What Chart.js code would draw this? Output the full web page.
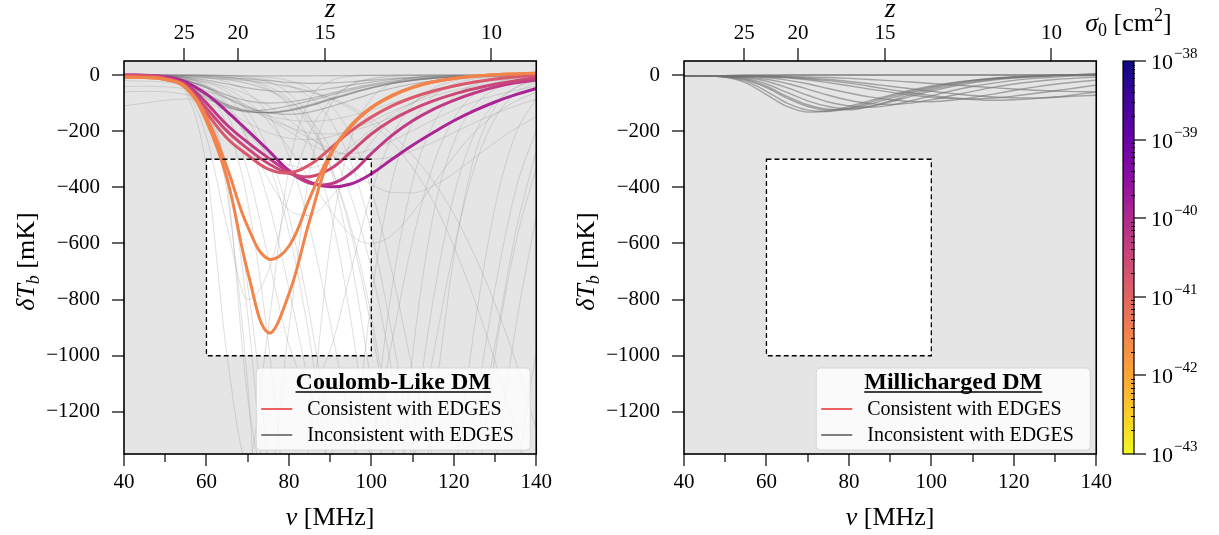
<!DOCTYPE html>
<html>
<head>
<meta charset="utf-8">
<script src="https://cdn.jsdelivr.net/npm/chart.js@4.4.0/dist/chart.umd.min.js"></script>
<style>
  html, body { margin: 0; padding: 0; background: #fff; }
  #wrap { position: relative; width: 1219px; height: 535px; overflow: hidden; }
  #wrap canvas { position: absolute; top: 0; }
</style>
</head>
<body>
<div id="wrap">
  <canvas id="cbar" width="139" height="535" style="left:1080px"></canvas>
  <canvas id="right" width="560" height="535" style="left:560px"></canvas>
  <canvas id="left" width="560" height="535" style="left:0px"></canvas>
</div>
<script>
// frequency grid shared by every curve (MHz)
const nuGrid = [40,45,50,55,60,65,70,75,80,85,90,95,100,105,110,115,120,125,130,135,140];
const nuTicks = [40,50,60,70,80,90,100,110,120,130,140];
const tbTicks = [0,-200,-400,-600,-800,-1000,-1200];
const zTicks = [25,20,15,10];
const edgesBoxNu = [60,100];
const edgesBoxTb = [-300,-1000];
const sigmaExp = [-43,-42,-41,-40,-39,-38];

// Coulomb-like DM: curves consistent with EDGES (coloured by sigma_0)
const coulombEdges = [
  [-8,-9,-16,-45,-165,-370,-700,-918,-780,-520,-290,-185,-118,-75,-45,-25,-12,-4,1,4,6],
  [-8,-9,-15,-42,-150,-330,-540,-655,-610,-440,-282,-180,-115,-72,-43,-24,-12,-4,1,4,6],
  [-2,-3,-12,-45,-135,-225,-285,-335,-348,-320,-262,-200,-150,-110,-80,-57,-39,-25,-14,-6,-1],
  [-1,-2,-10,-38,-118,-200,-262,-315,-350,-362,-335,-275,-210,-160,-122,-92,-68,-49,-33,-20,-10],
  [-1,-2,-8,-32,-100,-178,-240,-295,-345,-385,-388,-350,-280,-215,-163,-122,-90,-64,-43,-28,-18],
  [0,-1,-6,-25,-68,-130,-198,-268,-340,-382,-398,-388,-352,-300,-250,-205,-163,-127,-96,-70,-48]
];
const coulombLogSigma = [-41.5,-41.5,-40.8,-40.5,-40.25,-39.9];

// Coulomb-like DM: inconsistent curves, dense shallow band
const coulombBand = [
  [0,0,0,0,-1,-2,-3,-3,-3,-3,-2,-2,-1,-1,0,0,0,0,0,0,0],
  [0,0,-1,-2,-5,-9,-14,-20,-26,-30,-28,-24,-18,-13,-8,-5,-3,-2,-1,0,0],
  [-1,-1,-3,-8,-18,-32,-46,-56,-60,-57,-48,-36,-25,-16,-10,-6,-3,-2,-1,0,0],
  [-2,-3,-7,-20,-45,-72,-92,-100,-96,-84,-66,-48,-33,-22,-14,-8,-5,-3,-2,-1,0],
  [-3,-4,-10,-30,-70,-108,-130,-135,-128,-110,-88,-66,-46,-30,-19,-12,-7,-4,-2,-1,0],
  [-3,-5,-13,-38,-82,-115,-128,-123,-110,-92,-72,-54,-38,-26,-17,-11,-7,-4,-2,-1,0],
  [-2,-3,-6,-18,-45,-82,-115,-135,-140,-132,-113,-90,-67,-47,-32,-21,-13,-8,-5,-3,-2],
  [-3,-4,-9,-27,-66,-105,-128,-134,-127,-110,-88,-66,-47,-31,-20,-12,-7,-4,-2,-1,0],
  [-3,-4,-11,-33,-75,-112,-132,-133,-124,-106,-84,-63,-44,-29,-18,-11,-6,-4,-2,-1,0]
];

// Coulomb-like DM: inconsistent curves, faint
const coulombFaint = [
  [-110,-100,-90,-85,-90,-105,-125,-145,-160,-165,-160,-145,-125,-100,-78,-58,-42,-30,-20,-13,-8],
  [-60,-58,-60,-70,-95,-130,-170,-205,-225,-230,-220,-195,-165,-130,-100,-75,-55,-40,-28,-20,-14],
  [-20,-22,-25,-35,-55,-85,-120,-155,-185,-205,-210,-200,-178,-150,-120,-92,-70,-52,-38,-27,-19],
  [-5,-6,-10,-20,-40,-70,-110,-155,-200,-245,-275,-280,-265,-235,-198,-160,-125,-95,-72,-54,-40],
  [-40,-40,-42,-48,-60,-80,-110,-145,-185,-225,-262,-290,-300,-292,-270,-240,-205,-170,-138,-110,-86],
  [-3,-4,-9,-25,-65,-130,-210,-280,-320,-330,-305,-255,-195,-140,-97,-65,-43,-28,-18,-11,-7],
  [-10,-10,-12,-16,-25,-42,-70,-110,-160,-218,-280,-340,-390,-418,-420,-395,-350,-295,-240,-190,-148],
  [-2,-2,-4,-12,-40,-110,-230,-370,-480,-500,-440,-340,-240,-160,-100,-62,-38,-23,-14,-8,-5],
  [-5,-5,-7,-12,-24,-50,-95,-165,-260,-370,-480,-570,-600,-570,-490,-390,-290,-205,-140,-93,-62],
  [-1,-2,-8,-50,-220,-540,-800,-700,-430,-210,-90,-36,-14,-5,-2,-1,0,0,0,0,0],
  [0,-1,-3,-12,-45,-140,-340,-650,-960,-1100,-980,-700,-420,-220,-105,-48,-21,-9,-4,-2,-1],
  [0,0,-2,-15,-90,-380,-1150,-1450,-900,-350,-110,-35,-12,-4,-1,0,0,0,0,0,0],
  [0,0,-3,-20,-110,-420,-1100,-2100,-2000,-1300,-600,-230,-85,-30,-10,-3,-1,0,0,0,0],
  [-5,-6,-12,-35,-120,-350,-850,-1700,-2800,-3000,-2400,-1500,-800,-380,-170,-75,-32,-14,-6,-3,-1],
  [-2,-3,-6,-18,-60,-180,-450,-950,-1650,-2300,-2500,-2050,-1350,-760,-380,-175,-78,-34,-15,-7,-3],
  [-10,-12,-20,-50,-140,-350,-750,-1400,-2300,-3300,-4000,-3700,-2800,-1800,-1000,-500,-240,-110,-50,-22,-10],
  [-3,-4,-6,-12,-28,-60,-130,-270,-500,-850,-1300,-1750,-2000,-1800,-1300,-800,-430,-210,-100,-45,-20],
  [-8,-9,-12,-20,-40,-80,-160,-310,-560,-940,-1450,-2050,-2600,-2950,-3000,-2700,-2150,-1550,-1000,-600,-330],
  [-2,-2,-3,-5,-9,-16,-30,-55,-100,-180,-320,-540,-860,-1300,-1800,-2250,-2500,-2350,-1950,-1450,-980],
  [-3,-3,-4,-6,-10,-17,-30,-52,-90,-155,-260,-430,-690,-1060,-1550,-2150,-2750,-3250,-3500,-3350,-2900],
  [0,0,0,-1,-3,-8,-20,-48,-110,-240,-480,-870,-1380,-1750,-1700,-1200,-650,-290,-115,-45,-17],
  [0,0,0,0,-1,-3,-7,-16,-36,-78,-160,-310,-560,-920,-1320,-1600,-1550,-1200,-760,-410,-195],
  [-5,-5,-6,-8,-11,-15,-21,-30,-42,-60,-85,-120,-170,-240,-330,-450,-610,-800,-1020,-1260,-1500],
  [0,-1,-8,-60,-330,-1000,-1380,-900,-330,-90,-22,-5,-1,0,0,0,0,0,0,0,0],
  [-1,-1,-3,-10,-35,-100,-230,-450,-760,-1110,-1400,-1500,-1300,-950,-590,-320,-155,-68,-28,-11,-4],
  [0,0,0,-1,-3,-8,-18,-40,-85,-170,-320,-560,-900,-1330,-1800,-2150,-2200,-1900,-1400,-900,-500],
  [0,0,0,0,-1,-3,-9,-25,-65,-150,-330,-650,-1100,-1600,-1950,-1900,-1450,-900,-470,-210,-85],
  [0,0,-1,-3,-9,-25,-62,-140,-290,-540,-880,-1250,-1550,-1600,-1380,-1000,-620,-330,-155,-65,-25],
  [0,0,0,0,0,-1,-3,-8,-20,-48,-105,-215,-410,-700,-1050,-1360,-1500,-1330,-960,-560,-270],
  [-3,-3,-4,-6,-9,-13,-19,-28,-40,-57,-80,-112,-155,-212,-285,-378,-495,-640,-815,-1020,-1260]
];

// Millicharged DM: all curves inconsistent with EDGES
const milliGray = [
  [-4,-3,-2,-1,-1,0,0,0,0,0,0,0,0,0,0,0,0,0,0,0,0],
  [-4,-3,-2,-1,-1,0,0,0,0,0,0,0,0,0,0,0,0,0,0,1,2],
  [-4,-4,-8,-28,-70,-112,-132,-128,-112,-92,-72,-54,-39,-27,-18,-11,-6,-3,-1,1,3],
  [-4,-4,-7,-22,-58,-100,-125,-130,-118,-98,-77,-58,-42,-29,-19,-12,-7,-3,-1,1,3],
  [-4,-4,-6,-17,-45,-82,-112,-125,-120,-104,-83,-63,-46,-32,-21,-13,-8,-4,-1,1,3],
  [-4,-4,-6,-15,-40,-76,-106,-122,-124,-112,-92,-70,-51,-36,-24,-15,-9,-5,-2,0,2],
  [-4,-4,-5,-12,-32,-62,-92,-112,-120,-113,-96,-76,-57,-41,-28,-18,-11,-6,-2,0,2],
  [-4,-4,-5,-9,-22,-45,-72,-96,-110,-115,-108,-92,-74,-56,-41,-29,-19,-12,-7,-3,-1],
  [-4,-4,-4,-7,-15,-30,-50,-72,-90,-102,-105,-100,-88,-73,-58,-44,-32,-23,-16,-11,-7],
  [-4,-4,-4,-5,-9,-18,-31,-48,-64,-78,-88,-94,-95,-90,-80,-68,-55,-43,-33,-25,-18],
  [-4,-4,-4,-4,-6,-10,-17,-27,-38,-50,-61,-71,-79,-84,-85,-82,-75,-66,-56,-46,-36],
  [-4,-4,-4,-4,-5,-8,-13,-20,-29,-40,-52,-63,-73,-81,-87,-90,-88,-84,-79,-75,-72],
  [-4,-4,-4,-4,-5,-7,-11,-16,-23,-31,-40,-49,-58,-66,-73,-78,-81,-82,-78,-70,-60],
  [-4,-4,-4,-4,-4,-5,-7,-9,-12,-16,-20,-25,-30,-35,-40,-45,-50,-54,-57,-59,-60]
];

const FONT = '"Liberation Serif", "Times New Roman", serif';
const plasmaStops = ['#0d0887','#41049d','#6a00a8','#8f0da4','#b12a90','#cc4778','#e16462','#f2844b','#fca636','#fcce25','#f0f921'];

function hexRgb(h) { return [1,3,5].map(i => parseInt(h.slice(i, i + 2), 16)); }
function plasma(t) {
  t = Math.min(1, Math.max(0, t));
  const n = plasmaStops.length - 1;
  const f = t * n, i = Math.min(Math.floor(f), n - 1), u = f - i;
  const a = hexRgb(plasmaStops[i]), b = hexRgb(plasmaStops[i + 1]);
  return 'rgb(' + a.map((c, k) => Math.round(c + (b[k] - c) * u)).join(',') + ')';
}
// colorbar is reversed plasma: small sigma = yellow
function sigmaColor(ls) {
  const lo = sigmaExp[0], hi = sigmaExp[sigmaExp.length - 1];
  return plasma(1 - (ls - lo) / (hi - lo));
}
function zToNu(z) { return 1420.406 / (1 + z); }

function toPoints(vals) { return vals.map((v, i) => ({ x: nuGrid[i], y: v })); }
function lineSet(vals, color, width, order, smooth) {
  const ds = {
    data: toPoints(vals), borderColor: color, borderWidth: width, pointRadius: 0,
    fill: false, order: order
  };
  if (smooth) ds.tension = 0.4;
  else ds.cubicInterpolationMode = 'monotone';
  return ds;
}

function runFont(r) { return (r.s || '') + ' ' + r.px + 'px ' + FONT; }
function drawRuns(ctx, runs, x, y) {
  let w = 0;
  runs.forEach(r => { ctx.font = runFont(r); w += ctx.measureText(r.t).width; });
  let cx = x - w / 2;
  ctx.textAlign = 'left';
  ctx.textBaseline = 'alphabetic';
  runs.forEach(r => {
    ctx.font = runFont(r);
    ctx.fillText(r.t, cx, y + (r.dy || 0));
    cx += ctx.measureText(r.t).width;
  });
}
function seg(ctx, x0, y0, x1, y1) {
  ctx.beginPath(); ctx.moveTo(x0, y0); ctx.lineTo(x1, y1); ctx.stroke();
}

function drawLegend(chart, title) {
  const { ctx, chartArea: a } = chart;
  const w = 274, h = 82;
  const x0 = a.right - 6 - w, y0 = a.bottom - 4 - h;
  ctx.save();
  ctx.beginPath();
  ctx.roundRect(x0, y0, w, h, 4);
  ctx.fillStyle = 'rgba(255,255,255,0.8)';
  ctx.fill();
  ctx.strokeStyle = '#d6d6d6';
  ctx.lineWidth = 1;
  ctx.stroke();

  ctx.fillStyle = '#000';
  ctx.font = 'bold 24px ' + FONT;
  ctx.textAlign = 'center';
  ctx.textBaseline = 'alphabetic';
  const cx = x0 + w / 2;
  ctx.fillText(title, cx, y0 + 21);
  const tw = ctx.measureText(title).width;
  ctx.strokeStyle = '#000';
  ctx.lineWidth = 1.3;
  seg(ctx, cx - tw / 2, y0 + 24, cx + tw / 2, y0 + 24);

  const rows = [['Consistent with EDGES', '#eb5f5f'], ['Inconsistent with EDGES', '#7f7f7f']];
  rows.forEach((r, i) => {
    const yy = y0 + 41 + i * 26;
    ctx.strokeStyle = r[1];
    ctx.lineWidth = 2;
    seg(ctx, x0 + 5, yy, x0 + 36, yy);
    ctx.fillStyle = '#000';
    ctx.font = '20px ' + FONT;
    ctx.textAlign = 'left';
    ctx.fillText(r[0], x0 + 51, yy + 6);
  });
  ctx.restore();
}

const panelPlugin = {
  id: 'panel',
  beforeDatasetsDraw(chart) {
    const { ctx, chartArea: a, scales } = chart;
    const x = scales.x, y = scales.y;
    ctx.save();
    ctx.fillStyle = '#e5e5e5';
    ctx.fillRect(a.left, a.top, a.width, a.height);
    const bx0 = x.getPixelForValue(edgesBoxNu[0]), bx1 = x.getPixelForValue(edgesBoxNu[1]);
    const by0 = y.getPixelForValue(edgesBoxTb[0]), by1 = y.getPixelForValue(edgesBoxTb[1]);
    ctx.fillStyle = '#fff';
    ctx.fillRect(bx0, by0, bx1 - bx0, by1 - by0);
    ctx.restore();
  },
  afterDatasetsDraw(chart) {
    const { ctx, scales } = chart;
    const x = scales.x, y = scales.y;
    const bx0 = x.getPixelForValue(edgesBoxNu[0]), bx1 = x.getPixelForValue(edgesBoxNu[1]);
    const by0 = y.getPixelForValue(edgesBoxTb[0]), by1 = y.getPixelForValue(edgesBoxTb[1]);
    ctx.save();
    ctx.setLineDash([5, 3]);
    ctx.strokeStyle = '#000';
    ctx.lineWidth = 1.3;
    ctx.strokeRect(bx0, by0, bx1 - bx0, by1 - by0);
    ctx.restore();
  },
  afterDraw(chart, args, opts) {
    const { ctx, chartArea: a, scales } = chart;
    const x = scales.x, y = scales.y;
    ctx.save();
    ctx.strokeStyle = '#000';
    ctx.lineWidth = 1.6;
    ctx.strokeRect(a.left, a.top, a.width, a.height);

    ctx.lineWidth = 1.2;
    nuTicks.forEach(v => {
      const px = Math.round(x.getPixelForValue(v));
      seg(ctx, px, a.bottom, px, a.bottom + (v % 20 === 0 ? 12 : 8));
    });
    tbTicks.forEach(v => {
      const py = Math.round(y.getPixelForValue(v));
      seg(ctx, a.left - 12, py, a.left, py);
    });
    zTicks.forEach(z => {
      const px = Math.round(x.getPixelForValue(zToNu(z)));
      seg(ctx, px, a.top - 13, px, a.top);
    });

    ctx.fillStyle = '#000';
    const mid = (a.left + a.right) / 2;
    drawRuns(ctx, [{ t: '\u03bd', px: 26, s: 'italic' }, { t: ' [MHz]', px: 26 }], mid, 525);
    drawRuns(ctx, [{ t: 'z', px: 28, s: 'italic' }], mid, 17);

    ctx.save();
    ctx.translate(34, (a.top + a.bottom) / 2 + 4);
    ctx.rotate(-Math.PI / 2);
    drawRuns(ctx, [
      { t: '\u03b4T', px: 26, s: 'italic' },
      { t: 'b', px: 18, s: 'italic', dy: 5 },
      { t: ' [mK]', px: 26 }
    ], 0, 0);
    ctx.restore();
    ctx.restore();

    drawLegend(chart, opts.title);
  }
};

function axisFont() { return { family: FONT, size: 21 }; }

function makePanel(id, title, edges, edgeSigma, band, bandColor, bandWidth, faint) {
  const sets = [];
  edges.forEach((c, i) => sets.push(lineSet(c, sigmaColor(edgeSigma[i]), 3, 0, true)));
  band.forEach(c => sets.push(lineSet(c, bandColor, bandWidth, 1, false)));
  faint.forEach(c => sets.push(lineSet(c, 'rgba(150,150,150,0.3)', 1, 2, false)));

  return new Chart(document.getElementById(id), {
    type: 'line',
    data: { datasets: sets },
    options: {
      responsive: false,
      animation: false,
      events: [],
      layout: { padding: { left: 0, right: 15, top: 0, bottom: 0 } },
      plugins: { legend: { display: false }, tooltip: { enabled: false }, panel: { title: title } },
      scales: {
        x: {
          type: 'linear', position: 'bottom', min: 40, max: 140,
          afterFit: s => { s.height = 81; },
          afterBuildTicks: s => { s.ticks = nuTicks.map(v => ({ value: v })); },
          ticks: {
            padding: 8, color: '#000', font: axisFont(), autoSkip: false, maxRotation: 0,
            callback: v => (v % 20 === 0 ? String(v) : '')
          },
          grid: { display: false },
          border: { display: false }
        },
        xTop: {
          type: 'linear', position: 'top', min: 40, max: 140,
          afterFit: s => { s.height = 61; },
          afterBuildTicks: s => { s.ticks = zTicks.map(z => ({ value: zToNu(z) })); },
          ticks: {
            padding: 7, color: '#000', font: axisFont(), autoSkip: false, maxRotation: 0,
            callback: (v, i) => String(zTicks[i])
          },
          grid: { display: false },
          border: { display: false }
        },
        y: {
          type: 'linear', min: -1350, max: 50,
          afterFit: s => { s.width = 124; },
          afterBuildTicks: s => { s.ticks = tbTicks.map(v => ({ value: v })); },
          ticks: {
            padding: 16, color: '#000', font: axisFont(),
            callback: v => String(v).replace('-', '\u2212')
          },
          grid: { display: false },
          border: { display: false }
        }
      }
    },
    plugins: [panelPlugin]
  });
}

makePanel('left', 'Coulomb-Like DM', coulombEdges, coulombLogSigma,
  coulombBand, 'rgba(115,115,115,0.42)', 1.2, coulombFaint);
makePanel('right', 'Millicharged DM', [], [],
  milliGray, 'rgba(115,115,115,0.6)', 1.4, []);

// colorbar, drawn on a linear scale of log10(sigma_0)
const colorbarPlugin = {
  id: 'colorbar',
  afterDraw(chart) {
    const { ctx, chartArea: a, scales } = chart;
    const y = scales.y;
    ctx.save();
    const g = ctx.createLinearGradient(0, a.bottom, 0, a.top);
    const n = plasmaStops.length - 1;
    plasmaStops.forEach((c, i) => g.addColorStop(i / n, plasmaStops[n - i]));
    ctx.fillStyle = g;
    ctx.fillRect(a.left, a.top, a.width, a.height);
    ctx.strokeStyle = '#000';
    ctx.lineWidth = 1.2;
    ctx.strokeRect(a.left, a.top, a.width, a.height);

    ctx.lineWidth = 1;
    for (let k = sigmaExp[0]; k < sigmaExp[sigmaExp.length - 1]; k++) {
      for (let m = 2; m <= 9; m++) {
        const py = Math.round(y.getPixelForValue(k + Math.log10(m))) + 0.5;
        seg(ctx, a.right - 3, py, a.right + 1, py);
      }
    }
    ctx.lineWidth = 1.2;
    ctx.fillStyle = '#000';
    sigmaExp.forEach(k => {
      const py = Math.round(y.getPixelForValue(k));
      seg(ctx, a.right, py, a.right + 12, py);
      ctx.textAlign = 'left';
      ctx.textBaseline = 'alphabetic';
      ctx.font = '22px ' + FONT;
      ctx.fillText('10', a.right + 17, py + 8);
      const w = ctx.measureText('10').width;
      ctx.font = '15px ' + FONT;
      ctx.fillText('\u2212' + String(-k), a.right + 18 + w, py - 3);
    });

    drawRuns(ctx, [
      { t: '\u03c3', px: 26, s: 'italic' },
      { t: '0', px: 18, dy: 5 },
      { t: ' [cm', px: 26 },
      { t: '2', px: 18, dy: -10 },
      { t: ']', px: 26 }
    ], (a.left + a.right) / 2, 31);
    ctx.restore();
  }
};

new Chart(document.getElementById('cbar'), {
  type: 'line',
  data: { datasets: [] },
  options: {
    responsive: false,
    animation: false,
    events: [],
    layout: { padding: { left: 43, right: 0, top: 61, bottom: 81 } },
    plugins: { legend: { display: false }, tooltip: { enabled: false } },
    scales: {
      x: { display: false, type: 'linear', min: 0, max: 1 },
      y: {
        type: 'linear', position: 'right',
        min: sigmaExp[0], max: sigmaExp[sigmaExp.length - 1],
        afterFit: s => { s.width = 85; },
        ticks: { display: false },
        grid: { display: false },
        border: { display: false }
      }
    }
  },
  plugins: [colorbarPlugin]
});
</script>
</body>
</html>
